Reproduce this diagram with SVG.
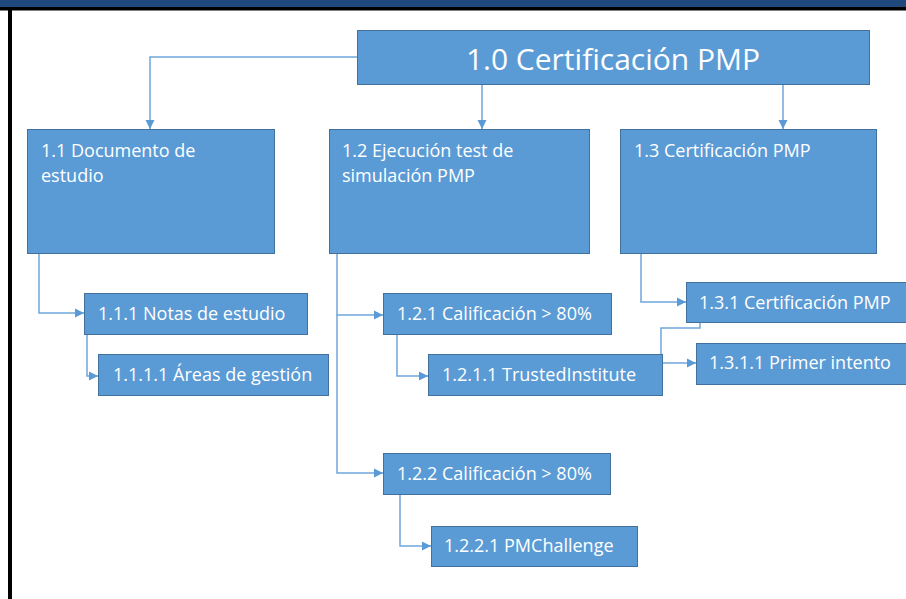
<svg xmlns="http://www.w3.org/2000/svg" width="906" height="599" viewBox="0 0 906 599">
<style>
.box{fill:#5B9BD5;stroke:#41719C;stroke-width:1}
.t{fill:#FFFFFF;font-family:"Open Sans","Liberation Sans",sans-serif;font-size:18px}
.title{fill:#FFFFFF;font-family:"Open Sans","Liberation Sans",sans-serif;font-size:30px}
.c{fill:none;stroke:#6FA6DC;stroke-width:1.5}
</style>
<defs>
<marker id="arr" markerUnits="userSpaceOnUse" markerWidth="10" markerHeight="10" refX="9" refY="5" orient="auto">
<path d="M0,0.5 L9,5 L0,9.5 z" fill="#5B9BD5"/>
</marker>
</defs>
<rect x="0" y="0" width="906" height="599" fill="#FFFFFF"/>
<rect x="0" y="0" width="906" height="7" fill="#1F497D"/>
<rect x="0" y="7" width="906" height="3.5" fill="#000000"/>
<rect x="8" y="7" width="4" height="592" fill="#000000"/>
<g id="connectors">
<path class="c" d="M357,57 H150 V129" marker-end="url(#arr)"/>
<path class="c" d="M482,85 V129" marker-end="url(#arr)"/>
<path class="c" d="M783,85 V129" marker-end="url(#arr)"/>
<path class="c" d="M39,254 V313 H84" marker-end="url(#arr)"/>
<path class="c" d="M87,335 V376 H98" marker-end="url(#arr)"/>
<path class="c" d="M337,254 V315 H383" marker-end="url(#arr)"/>
<path class="c" d="M337,315 V473 H383" marker-end="url(#arr)"/>
<path class="c" d="M397,335 V376 H428" marker-end="url(#arr)"/>
<path class="c" d="M400,495 V546 H431" marker-end="url(#arr)"/>
<path class="c" d="M641,254 V302 H686" marker-end="url(#arr)"/>
<path class="c" d="M700,323 V328 H661 V363 H696" marker-end="url(#arr)"/>
</g>
<g id="n1_0">
<rect class="box" x="357.5" y="30.5" width="512" height="54"/>
<text class="title" x="613" y="70" text-anchor="middle">1.0 Certificación PMP</text>
</g>
<g id="n1_1">
<rect class="box" x="27.5" y="129.5" width="247" height="124"/>
<text class="t" x="41" y="157">1.1 Documento de</text>
<text class="t" x="41" y="182">estudio</text>
</g>
<g id="n1_2">
<rect class="box" x="329.5" y="129.5" width="260" height="124"/>
<text class="t" x="342" y="157">1.2 Ejecución test de</text>
<text class="t" x="342" y="182">simulación PMP</text>
</g>
<g id="n1_3">
<rect class="box" x="620.5" y="129.5" width="256" height="124"/>
<text class="t" x="634" y="157">1.3 Certificación PMP</text>
</g>
<g id="n1_1_1">
<rect class="box" x="84.5" y="293.5" width="223" height="41"/>
<text class="t" x="98" y="320">1.1.1 Notas de estudio</text>
</g>
<g id="n1_1_1_1">
<rect class="box" x="98.5" y="354.5" width="230" height="41"/>
<text class="t" x="113" y="381">1.1.1.1 Áreas de gestión</text>
</g>
<g id="n1_2_1">
<rect class="box" x="383.5" y="293.5" width="228" height="41"/>
<text class="t" x="397" y="320">1.2.1 Calificación &gt; 80%</text>
</g>
<g id="n1_2_1_1">
<rect class="box" x="428.5" y="354.5" width="234" height="41"/>
<text class="t" x="442" y="381">1.2.1.1 TrustedInstitute</text>
</g>
<g id="n1_2_2">
<rect class="box" x="383.5" y="453.5" width="227" height="41"/>
<text class="t" x="397" y="480">1.2.2 Calificación &gt; 80%</text>
</g>
<g id="n1_2_2_1">
<rect class="box" x="431.5" y="526.5" width="206" height="40"/>
<text class="t" x="444" y="552">1.2.2.1 PMChallenge</text>
</g>
<g id="n1_3_1">
<rect class="box" x="686.5" y="282.5" width="222" height="40"/>
<text class="t" x="699" y="309">1.3.1 Certificación PMP</text>
</g>
<g id="n1_3_1_1">
<rect class="box" x="696.5" y="343.5" width="212" height="41"/>
<text class="t" x="709" y="369">1.3.1.1 Primer intento</text>
</g>
</svg>
